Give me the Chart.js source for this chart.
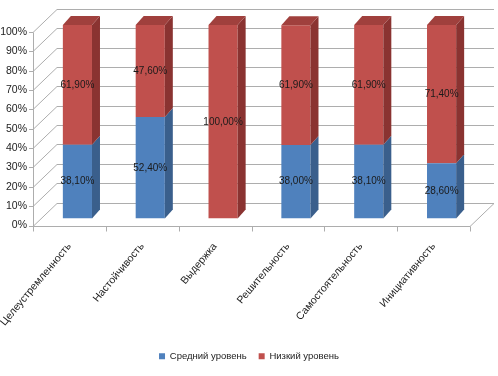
<!DOCTYPE html>
<html lang="ru">
<head>
    <meta charset="UTF-8">
    <title>Уровни</title>
    <style>
        html, body { margin: 0; padding: 0; background: #ffffff; }
        #wrap { width: 498px; height: 376px; position: relative; }
    </style>
</head>
<body>
    <div id="wrap"><canvas id="chart"></canvas></div>
    <script src="https://cdn.jsdelivr.net/npm/chart.js"></script>
    <script>
        // данные диаграммы
        const categories = ['Целеустремленность', 'Настойчивость', 'Выдержка', 'Решительность', 'Самостоятельность', 'Инициативность'];
        const seriesNames = ['Средний уровень', 'Низкий уровень'];
        const middleLevel = [38.1, 52.4, 0, 38.0, 38.1, 28.6];
        const lowLevel = [61.9, 47.6, 100, 61.9, 61.9, 71.4];
        const yTicks = [0, 10, 20, 30, 40, 50, 60, 70, 80, 90, 100];

        const FONT = '"Liberation Sans", sans-serif';
        const front = { dx: -8, dy: 7 };   // передняя грань пола/стенки
        const back = { dx: 16, dy: -16 };  // задняя стенка
        const depth = { dx: 8, dy: 9 };    // глубина столбика

        const faceColors = [
            { side: '#3a5f8c', top: '#4470a3' },
            { side: '#8a3331', top: '#a0403d' }
        ];

        // рамка 3D: стенки, сетка, пол
        const framePlugin = {
            id: 'frame3d',
            afterLayout(chart) {
                // легенда по центру всего полотна
                chart.legend.left += 10;
                chart.legend.right += 10;
            },
            beforeDatasetsDraw(chart) {
                const ctx = chart.ctx;
                const area = chart.chartArea;
                const ys = chart.scales.y;
                ctx.save();
                ctx.strokeStyle = '#adadad';
                ctx.lineWidth = 1;
                yTicks.forEach(v => {
                    const y = Math.round(ys.getPixelForValue(v)) + 0.5;
                    ctx.beginPath();
                    ctx.moveTo(area.left + front.dx, y + front.dy);
                    ctx.lineTo(area.left + back.dx, y + back.dy);
                    ctx.lineTo(area.right + back.dx, y + back.dy);
                    ctx.stroke();
                    // засечки оси Y
                    ctx.beginPath();
                    ctx.moveTo(area.left + front.dx - 4, y + front.dy);
                    ctx.lineTo(area.left + front.dx, y + front.dy);
                    ctx.stroke();
                });
                const y0 = Math.round(ys.getPixelForValue(0)) + 0.5;
                const y100 = Math.round(ys.getPixelForValue(100)) + 0.5;
                // ось Y спереди
                ctx.beginPath();
                ctx.moveTo(area.left + front.dx + 0.5, y100 + front.dy);
                ctx.lineTo(area.left + front.dx + 0.5, y0 + front.dy);
                ctx.stroke();
                // передний край пола
                ctx.beginPath();
                ctx.moveTo(area.left + front.dx, y0 + front.dy);
                ctx.lineTo(area.right + front.dx, y0 + front.dy);
                ctx.lineTo(area.right + back.dx, y0 + back.dy);
                ctx.stroke();
                // засечки категорий
                const step = (area.right - area.left) / categories.length;
                for (let i = 0; i <= categories.length; i++) {
                    const x = Math.round(area.left + front.dx + i * step) + 0.5;
                    ctx.beginPath();
                    ctx.moveTo(x, y0 + front.dy);
                    ctx.lineTo(x, y0 + front.dy + 5);
                    ctx.stroke();
                }
                ctx.restore();
            },
            afterDatasetsDraw(chart) {
                const ctx = chart.ctx;
                ctx.save();
                // боковые грани
                chart.data.datasets.forEach((ds, di) => {
                    const meta = chart.getDatasetMeta(di);
                    meta.data.forEach(el => {
                        const h = el.base - el.y;
                        if (h <= 0) return;
                        const r = el.x + el.width / 2;
                        ctx.fillStyle = faceColors[di].side;
                        ctx.beginPath();
                        ctx.moveTo(r, el.y);
                        ctx.lineTo(r + depth.dx, el.y - depth.dy);
                        ctx.lineTo(r + depth.dx, el.base - depth.dy);
                        ctx.lineTo(r, el.base);
                        ctx.closePath();
                        ctx.fill();
                    });
                });
                // верхние грани
                const last = chart.data.datasets.length - 1;
                const meta = chart.getDatasetMeta(last);
                meta.data.forEach(el => {
                    const l = el.x - el.width / 2;
                    const r = el.x + el.width / 2;
                    ctx.fillStyle = faceColors[last].top;
                    ctx.beginPath();
                    ctx.moveTo(l, el.y);
                    ctx.lineTo(l + depth.dx, el.y - depth.dy);
                    ctx.lineTo(r + depth.dx, el.y - depth.dy);
                    ctx.lineTo(r, el.y);
                    ctx.closePath();
                    ctx.fill();
                });
                // подписи значений
                ctx.font = '10px ' + FONT;
                ctx.fillStyle = '#1a1a1a';
                ctx.textAlign = 'center';
                ctx.textBaseline = 'middle';
                chart.data.datasets.forEach((ds, di) => {
                    chart.getDatasetMeta(di).data.forEach((el, i) => {
                        const v = ds.data[i];
                        if (!v) return;
                        const txt = v.toFixed(2).replace('.', ',') + '%';
                        ctx.fillText(txt, el.x, (el.y + el.base) / 2);
                    });
                });
                ctx.restore();
            }
        };

        const ctx = document.getElementById('chart').getContext('2d');
        new Chart(ctx, {
            type: 'bar',
            data: {
                labels: categories,
                datasets: [
                    { label: seriesNames[0], data: middleLevel, backgroundColor: '#4f81bd' },
                    { label: seriesNames[1], data: lowLevel, backgroundColor: '#c0504d' }
                ]
            },
            options: {
                responsive: true,
                maintainAspectRatio: false,
                animation: false,
                barPercentage: 0.4,
                categoryPercentage: 1.0,
                layout: { padding: { top: 25, right: 20, bottom: 5, left: 0 } },
                plugins: {
                    tooltip: { enabled: false },
                    legend: {
                        position: 'bottom',
                        labels: {
                            boxWidth: 6,
                            boxHeight: 6,
                            padding: 12,
                            color: '#222',
                            font: { family: FONT, size: 9.5 }
                        }
                    }
                },
                scales: {
                    x: {
                        stacked: true,
                        grid: { display: false },
                        border: { display: false },
                        afterFit(scale) {
                            scale.height = 121;
                            scale.paddingLeft = 0;
                            scale.paddingRight = 0;
                        },
                        ticks: {
                            minRotation: 50,
                            maxRotation: 50,
                            autoSkip: false,
                            labelOffset: -8,
                            padding: 14,
                            color: '#222',
                            font: { family: FONT, size: 10.5 }
                        }
                    },
                    y: {
                        stacked: true,
                        min: 0,
                        max: 100,
                        grid: { display: false, drawTicks: false },
                        border: { display: false },
                        afterFit(scale) { scale.width = 41; },
                        ticks: {
                            stepSize: 10,
                            padding: 14,
                            labelOffset: 7,
                            color: '#222',
                            font: { family: FONT, size: 10.5 },
                            callback: v => v + '%'
                        }
                    }
                }
            },
            plugins: [framePlugin]
        });
    </script>
</body>
</html>
